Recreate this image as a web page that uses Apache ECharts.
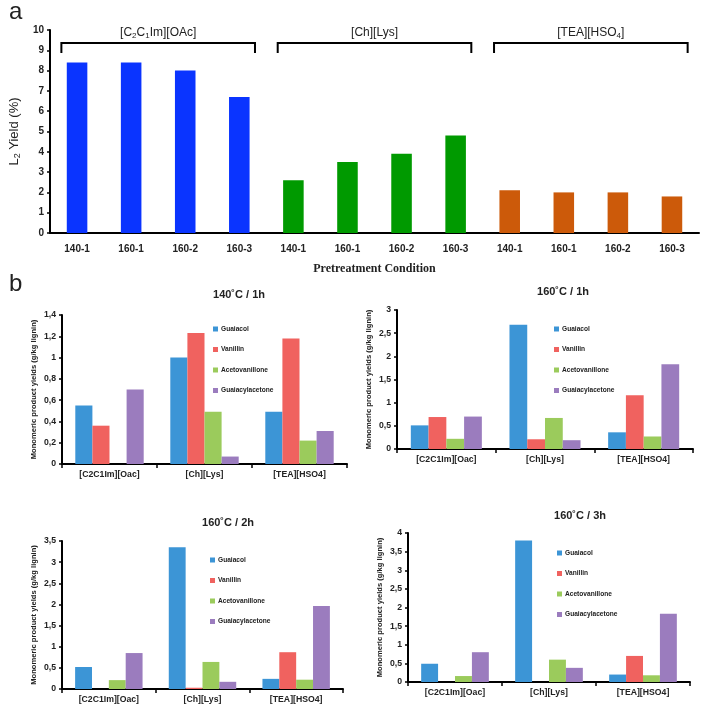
<!DOCTYPE html>
<html><head><meta charset="utf-8">
<script src="https://cdn.jsdelivr.net/npm/echarts@6/dist/echarts.min.js"></script>
<style>html,body{margin:0;padding:0;background:#fff}#c{width:703px;height:709px}</style>
</head><body><div id="c"></div>
<script>
// ---------- data: panel a ----------
const aConditions = ['140-1','160-1','160-2','160-3','140-1','160-1','160-2','160-3','140-1','160-1','160-2','160-3'];
const aGroups = ['[C{sub|2}C{sub|1}Im][OAc]', '[Ch][Lys]', '[TEA][HSO{sub|4}]'];
const aGroupOfBar = [0,0,0,0,1,1,1,1,2,2,2,2];
const aYield = [8.4, 8.4, 8.0, 6.7, 2.6, 3.5, 3.9, 4.8, 2.1, 2.0, 2.0, 1.8];
const aYTicks = [0,1,2,3,4,5,6,7,8,9,10];

// ---------- data: panel b ----------
const bCategories = ['[C2C1Im][Oac]', '[Ch][Lys]', '[TEA][HSO4]'];
const bProducts = ['Guaiacol', 'Vanillin', 'Acetovanillone', 'Guaiacylacetone'];
const bTitles = ['140˚C / 1h', '160˚C / 1h', '160˚C / 2h', '160˚C / 3h'];
const bMax = [1.4, 3, 3.5, 4];
const bInterval = [0.2, 0.5, 0.5, 0.5];
// values per panel, per product, per category
const b140_1h = {
  Guaiacol:        [0.55, 1.00, 0.49],
  Vanillin:        [0.36, 1.23, 1.18],
  Acetovanillone:  [0.00, 0.49, 0.22],
  Guaiacylacetone: [0.70, 0.07, 0.31]
};
const b160_1h = {
  Guaiacol:        [0.51, 2.68, 0.36],
  Vanillin:        [0.69, 0.21, 1.16],
  Acetovanillone:  [0.22, 0.67, 0.27],
  Guaiacylacetone: [0.70, 0.19, 1.83]
};
const b160_2h = {
  Guaiacol:        [0.52, 3.35, 0.24],
  Vanillin:        [0.00, 0.03, 0.87],
  Acetovanillone:  [0.21, 0.64, 0.22],
  Guaiacylacetone: [0.85, 0.17, 1.96]
};
const b160_3h = {
  Guaiacol:        [0.49, 3.80, 0.20],
  Vanillin:        [0.00, 0.00, 0.70],
  Acetovanillone:  [0.16, 0.60, 0.18],
  Guaiacylacetone: [0.80, 0.38, 1.83]
};
const bPanels = [b140_1h, b160_1h, b160_2h, b160_3h];

// ---------- styles ----------
const aColors = ['#0A34FF', '#009A00', '#CC5A0A'];
const bColors = {Guaiacol:'#3C95D6', Vanillin:'#F0625F', Acetovanillone:'#9BCB5C', Guaiacylacetone:'#9B7CBE'};
const FONT = 'Liberation Sans';

// grid layouts (pixel boxes)
const bGrids = [
  {left: 62, right: 356, top: 315, bottom: 245},
  {left: 397, right: 10, top: 310, bottom: 260},
  {left: 62, right: 360, top: 541, bottom: 20},
  {left: 408, right: 13, top: 533, bottom: 27}
];
const bTitlePos = [[239, 295], [563, 292], [228, 523], [580, 516]];
const bLegendPos = [[213, 325], [554, 325], [210, 556], [557, 549]];

const grids = [{left: 43, right: 4, top: 30, bottom: 476}].concat(bGrids);

const xAxes = [{
  gridIndex: 0, type: 'category',
  data: aConditions.map((c, i) => i + '|' + c),
  axisLine: {lineStyle: {color: '#000', width: 2}},
  axisTick: {show: false},
  axisLabel: {formatter: v => v.split('|')[1], color: '#222', fontFamily: FONT, fontWeight: 'bold', fontSize: 10, margin: 11, interval: 0},
  name: 'Pretreatment Condition', nameLocation: 'middle', nameGap: 30,
  nameTextStyle: {fontFamily: 'Liberation Serif', fontWeight: 'bold', fontSize: 12, color: '#222'}
}];
const yAxes = [{
  gridIndex: 0, type: 'value', min: 0, max: 10, interval: 1,
  axisLine: {show: true, lineStyle: {color: '#000', width: 2}},
  axisTick: {show: true, length: 3, lineStyle: {color: '#000', width: 1.5}},
  splitLine: {show: false},
  axisLabel: {color: '#222', fontFamily: FONT, fontWeight: 'bold', fontSize: 10, margin: 6},
  name: 'L{sub|2} Yield (%)', nameLocation: 'middle', nameGap: 26, nameRotate: 90,
  nameTextStyle: {fontFamily: FONT, fontSize: 13, color: '#222', rich: {sub: {fontSize: 9, fontFamily: FONT, color:'#222', padding:[6,0,0,0]}}}
}];

bPanels.forEach((p, k) => {
  xAxes.push({
    gridIndex: k + 1, type: 'category', data: bCategories,
    axisLine: {lineStyle: {color: '#000', width: 2}},
    axisTick: {show: true, length: 4, lineStyle: {color: '#000', width: 1.5}},
    axisLabel: {color: '#222', fontFamily: FONT, fontWeight: 'bold', fontSize: 8.7, margin: 6}
  });
  yAxes.push({
    gridIndex: k + 1, type: 'value', min: 0, max: bMax[k], interval: bInterval[k],
    axisLine: {show: true, lineStyle: {color: '#000', width: 2}},
    axisTick: {show: true, length: 3, lineStyle: {color: '#000', width: 1.5}},
    splitLine: {show: false},
    axisLabel: {color: '#222', fontFamily: FONT, fontWeight: 'bold', fontSize: 8.7, margin: 6,
      formatter: v => String(Math.round(v * 10) / 10).replace('.', ',')},
    name: 'Monomeric product yields (g/kg lignin)', nameLocation: 'middle', nameGap: 24, nameRotate: 90,
    nameTextStyle: {fontFamily: FONT, fontWeight: 'bold', fontSize: 7.6, color: '#222'}
  });
});

const series = [{
  type: 'bar', xAxisIndex: 0, yAxisIndex: 0, barWidth: '38%',
  data: aYield.map((v, i) => ({value: v, itemStyle: {color: aColors[aGroupOfBar[i]]}}))
}, {
  type: 'custom', xAxisIndex: 0, yAxisIndex: 0, clip: false,
  data: aGroups.map((g, gi) => {
    const idx = aGroupOfBar.map((x, i) => x === gi ? i : -1).filter(i => i >= 0);
    return [idx[0], idx[idx.length - 1], gi];
  }),
  renderItem: (params, api) => {
    const s = api.value(0), e = api.value(1), g = api.value(2);
    const bw = api.size([1, 0])[0];
    const pT = api.coord([s, 9.36]), pE = api.coord([e, 9.36]), pB = api.coord([s, 8.87]), pL = api.coord([s, 9.86]);
    const x1 = pT[0] - 0.29 * bw, x2 = pE[0] + 0.29 * bw;
    return {type: 'group', children: [
      {type: 'polyline', shape: {points: [[x1, pB[1]], [x1, pT[1]], [x2, pT[1]], [x2, pB[1]]]},
       style: {stroke: '#000', lineWidth: 2, fill: null}},
      {type: 'text', x: (x1 + x2) / 2, y: pL[1],
       style: {text: aGroups[g], align: 'center', verticalAlign: 'middle', fontFamily: FONT, fontSize: 12, fill: '#222',
         rich: {sub: {fontSize: 8, fontFamily: FONT, fill: '#222', padding: [6, 0, 0, 0]}}}}
    ]};
  }
}];

bPanels.forEach((p, k) => {
  bProducts.forEach(name => {
    series.push({
      type: 'bar', name: name, xAxisIndex: k + 1, yAxisIndex: k + 1,
      barGap: '0%', barCategoryGap: '28%',
      itemStyle: {color: bColors[name]},
      data: p[name]
    });
  });
});

const legends = bLegendPos.map(pos => ({
  orient: 'vertical', left: pos[0], top: pos[1], padding: 0, itemWidth: 5, itemHeight: 5, itemGap: 12.5,
  icon: 'rect', data: bProducts, selectedMode: false,
  textStyle: {fontFamily: FONT, fontWeight: 'bold', fontSize: 6.6, color: '#222', padding: [0,0,0,-2], lineHeight: 8}
}));

const graphics = [
  {type: 'text', left: 9, top: 0, style: {text: 'a', fontFamily: FONT, fontSize: 24, fill: '#222'}},
  {type: 'text', left: 9, top: 272, style: {text: 'b', fontFamily: FONT, fontSize: 24, fill: '#222'}}
].concat(bTitles.map((t, k) => ({
  type: 'text', x: bTitlePos[k][0], y: bTitlePos[k][1],
  style: {text: t, align: 'center', verticalAlign: 'middle', fontFamily: FONT, fontWeight: 'bold', fontSize: 11, fill: '#222'}
})));

const chart = echarts.init(document.getElementById('c'), null, {renderer: 'canvas'});
chart.setOption({
  animation: false,
  backgroundColor: '#fff',
  grid: grids,
  xAxis: xAxes,
  yAxis: yAxes,
  legend: legends,
  graphic: graphics,
  series: series
});
</script></body></html>
